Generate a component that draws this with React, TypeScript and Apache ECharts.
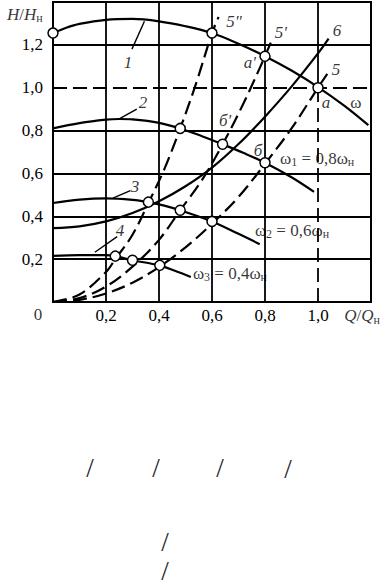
import React, { useEffect, useRef } from "react";
import * as echarts from "echarts";

// ---- data ----
const xTicks = [0, 0.2, 0.4, 0.6, 0.8, 1.0, 1.2];
const yTicks = [0, 0.2, 0.4, 0.6, 0.8, 1.0, 1.2, 1.4];

// H-Q curves at ω, ω1=0.8ω, ω2=0.6ω, ω3=0.4ω
const curve1: [number, number][] = [
  [0, 1.255], [0.05, 1.28], [0.1, 1.298], [0.2, 1.317], [0.3, 1.321], [0.4, 1.31],
  [0.5, 1.287], [0.6, 1.255], [0.7, 1.205], [0.8, 1.147], [0.9, 1.08], [1.0, 1.003],
  [1.1, 0.915], [1.19, 0.825],
];
const curve2: [number, number][] = [
  [0, 0.81], [0.1, 0.835], [0.2, 0.851], [0.25, 0.854], [0.3, 0.852], [0.4, 0.836],
  [0.48, 0.81], [0.56, 0.775], [0.64, 0.736], [0.72, 0.695], [0.8, 0.65], [0.9, 0.582],
  [0.985, 0.514],
];
const curve3: [number, number][] = [
  [0, 0.462], [0.1, 0.478], [0.2, 0.484], [0.3, 0.477], [0.36, 0.466], [0.42, 0.45],
  [0.48, 0.428], [0.6, 0.376], [0.7, 0.318], [0.78, 0.27],
];
const curve4: [number, number][] = [
  [0, 0.215], [0.1, 0.219], [0.2, 0.219], [0.235, 0.214], [0.3, 0.195], [0.4, 0.171],
  [0.46, 0.146], [0.52, 0.117],
];
// system characteristic 6
const curve6: [number, number][] = [
  [0, 0.345], [0.1, 0.353], [0.2, 0.376], [0.3, 0.415], [0.4, 0.47], [0.5, 0.54],
  [0.6, 0.627], [0.7, 0.737], [0.8, 0.865], [0.9, 1.005], [1.0, 1.16], [1.04, 1.229],
];
// similarity parabolas 5, 5', 5"
const para5: [number, number][] = [
  [0, 0], [0.1, 0.01], [0.2, 0.04], [0.3, 0.09], [0.4, 0.163], [0.5, 0.255], [0.6, 0.365],
  [0.7, 0.49], [0.8, 0.645], [0.9, 0.81], [1.0, 1.0], [1.035, 1.065],
];
const para5p: [number, number][] = [
  [0, 0], [0.1, 0.018], [0.2, 0.072], [0.3, 0.165], [0.4, 0.29], [0.48, 0.428],
  [0.56, 0.565], [0.64, 0.736], [0.72, 0.93], [0.8, 1.147], [0.825, 1.22],
];
const para5pp: [number, number][] = [
  [0, 0], [0.1, 0.035], [0.2, 0.14], [0.235, 0.2], [0.3, 0.314], [0.36, 0.462],
  [0.42, 0.62], [0.48, 0.81], [0.54, 1.02], [0.6, 1.255], [0.625, 1.33],
];
// marked operating points
const points: [number, number][] = [
  [0, 1.255], [0.6, 1.255], [0.8, 1.147], [1.0, 1.0],
  [0.48, 0.81], [0.64, 0.736], [0.8, 0.65],
  [0.36, 0.466], [0.48, 0.428], [0.6, 0.376],
  [0.235, 0.214], [0.3, 0.195], [0.403, 0.171],
];
// leader lines for curve numbers
const leaders: [number, number][][] = [
  [[0.298, 1.18], [0.345, 1.31]],
  [[0.316, 0.9], [0.25, 0.855]],
  [[0.292, 0.52], [0.226, 0.485]],
  [[0.242, 0.305], [0.158, 0.232]],
];
// annotation texts
const annoTexts = [
  "{i|1}", "{i|2}", "{i|3}", "{i|4}", '{i|5"}', "{i|5'}", "{i|6}", "{i|5}",
  "{i|a'}", "{i|a}", "ω", "{i|б'}", "{i|б}",
  "ω{sub|1} = 0,8ω{sub|н}", "ω{sub|2} = 0,6ω{sub|н}", "ω{sub|3} = 0,4ω{sub|н}",
  "0", "{i|H}/{i|H}{sub|н}", "{i|Q}/{i|Q}{sub|н}",
];
const annoAt: [number, number][] = [
  [0.283, 1.12], [0.34, 0.929], [0.309, 0.537], [0.253, 0.336], [0.683, 1.307],
  [0.86, 1.26], [1.072, 1.269], [1.068, 1.087], [0.743, 1.12], [1.03, 0.929],
  [1.143, 0.933], [0.649, 0.849], [0.774, 0.709],
  [0.857, 0.672], [0.762, 0.336], [0.528, 0.135],
  [-0.057, -0.056], [-0.106, 1.344], [1.166, -0.065],
];
const annoLeftAligned = [13, 14, 15];

const SERIF = "Liberation Serif, DejaVu Serif, serif";

export default function App() {
  const ref = useRef<HTMLDivElement>(null);
  useEffect(() => {
    if (!ref.current) return;
    const chart = echarts.init(ref.current, undefined, { renderer: "svg" });
    const rich = {
      i: { fontStyle: "italic", fontSize: 17, fontFamily: SERIF, color: "#000" },
      sub: {
        fontSize: 12, fontFamily: SERIF, color: "#000", verticalAlign: "bottom",
        lineHeight: 12,
      },
    };
    const fmt = (v: number) => v.toFixed(1).replace(".", ",");
    const solidGrid = { type: "solid", color: "#000", width: 1.8 };
    const dashedGrid = { type: [14, 6], color: "#000", width: 1.8 };
    const markData: any[] = [];
    [0.2, 0.4, 0.6, 0.8].forEach((x) => markData.push({ xAxis: x, lineStyle: solidGrid }));
    [0.2, 0.4, 0.6, 0.8, 1.2].forEach((y) => markData.push({ yAxis: y, lineStyle: solidGrid }));
    markData.push({ yAxis: 1.0, lineStyle: dashedGrid });
    markData.push([{ coord: [1.0, 1.0], lineStyle: solidGrid }, { coord: [1.0, 1.4] }]);
    markData.push([{ coord: [1.0, 0], lineStyle: dashedGrid }, { coord: [1.0, 1.0] }]);

    const solid = (data: [number, number][]) => ({
      type: "line", data, smooth: 0.35, showSymbol: false, symbol: "none", silent: true,
      lineStyle: { color: "#000", width: 2.2 }, z: 3,
    });
    const dashed = (data: [number, number][]) => ({
      type: "line", data, smooth: 0.35, showSymbol: false, symbol: "none", silent: true,
      lineStyle: { color: "#000", width: 2.2, type: [14, 6] }, z: 3,
    });

    const annoData = annoTexts.map((t, k) => ({
      value: annoAt[k],
      label: {
        show: true,
        position: annoLeftAligned.includes(k) ? "right" : "inside",
        distance: 0,
        formatter: t,
      },
    }));

    chart.setOption({
      animation: false,
      grid: { left: 53, top: 2, width: 318, height: 300, show: true, borderColor: "#000", borderWidth: 2 },
      xAxis: {
        type: "value", min: 0, max: 1.2, interval: 0.2,
        axisLine: { show: false }, axisTick: { show: false }, splitLine: { show: false },
        axisLabel: {
          formatter: (v: number) => (v === 0 || v > 1.1 ? "" : fmt(v)),
          color: "#000", fontSize: 17, fontFamily: SERIF, margin: 5,
        },
      },
      yAxis: {
        type: "value", min: 0, max: 1.4, interval: 0.2,
        axisLine: { show: false }, axisTick: { show: false }, splitLine: { show: false },
        axisLabel: {
          formatter: (v: number) => (v === 0 || v > 1.3 ? "" : fmt(v)),
          color: "#000", fontSize: 17, fontFamily: SERIF, margin: 10,
        },
      },
      series: [
        {
          type: "line", data: [], silent: true,
          markLine: { symbol: ["none", "none"], silent: true, label: { show: false }, data: markData },
          z: 1,
        },
        solid(curve1), solid(curve2), solid(curve3), solid(curve4), solid(curve6),
        dashed(para5), dashed(para5p), dashed(para5pp),
        ...leaders.map((l) => ({
          type: "line", data: l, showSymbol: false, symbol: "none", silent: true,
          lineStyle: { color: "#000", width: 1.4 }, z: 3,
        })),
        {
          type: "scatter", data: points, symbol: "circle", symbolSize: 10, silent: true,
          itemStyle: { color: "#fff", borderColor: "#000", borderWidth: 1.5, opacity: 1 }, z: 5,
        },
        {
          type: "scatter", data: annoData, symbolSize: 0, silent: true, clip: false, z: 6,
          label: {
            show: true, color: "#000", fontSize: 17, fontFamily: SERIF, lineHeight: 20, rich,
          },
        },
      ],
      graphic: [
        [90, 468], [156, 468], [220, 468], [288, 469], [165, 542], [165, 571],
      ].map(([x, y]) => ({
        type: "text", x, y,
        style: { text: "/", fontSize: 27, fontFamily: SERIF, fill: "#222", align: "center", verticalAlign: "middle" },
        silent: true,
      })),
    });
    return () => chart.dispose();
  }, []);
  return <div ref={ref} style={{ position: "absolute", left: 0, top: 0, width: 386, height: 585 }} />;
}
